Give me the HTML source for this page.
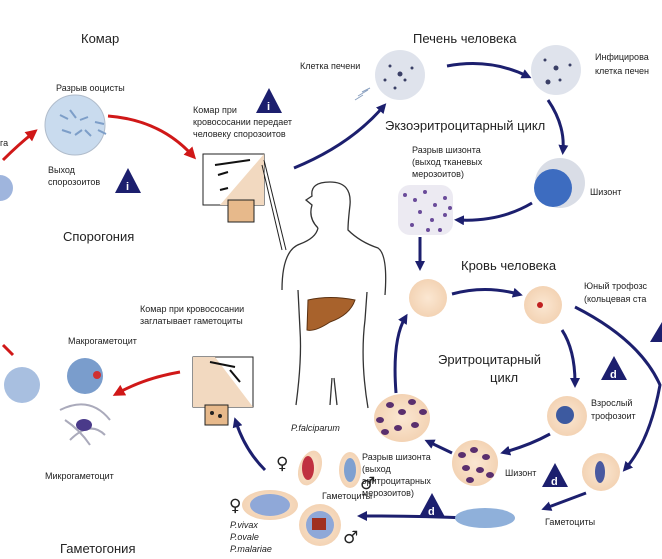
<!DOCTYPE html>
<html><head><meta charset="utf-8"><style>
html,body{margin:0;padding:0;background:#fff;}
svg{display:block;}
text{font-family:"Liberation Sans",sans-serif;fill:#222;}
.s{font-size:9px;} .b{font-size:13px;}
.g{font-family:"DejaVu Sans",sans-serif;font-size:17px;font-weight:bold;}
</style></head><body>
<svg width="662" height="559" viewBox="0 0 662 559" xmlns="http://www.w3.org/2000/svg">
<defs>
<marker id="bh" markerWidth="10" markerHeight="10" refX="5" refY="5" orient="auto" markerUnits="userSpaceOnUse" viewBox="0 0 10 10"><path d="M0,0 L10,5 L0,10 z" fill="#1c1f6e"/></marker>
<marker id="rh" markerWidth="12" markerHeight="12" refX="5" refY="5" orient="auto" markerUnits="userSpaceOnUse" viewBox="0 0 10 10"><path d="M0,0 L10,5 L0,10 z" fill="#d01818"/></marker>
<radialGradient id="rbc"><stop offset="0" stop-color="#fbe7d2"/><stop offset="1" stop-color="#f3d3b4"/></radialGradient>
</defs>
<text class="b" x="81" y="43">Комар</text>
<text class="b" x="413" y="43">Печень человека</text>
<text class="b" x="385" y="130">Экзоэритроцитарный цикл</text>
<text class="b" x="63" y="241">Спорогония</text>
<text class="b" x="461" y="270">Кровь человека</text>
<text class="b" x="438" y="364">Эритроцитарный</text>
<text class="b" x="490" y="382">цикл</text>
<text class="b" x="60" y="553">Гаметогония</text>
<text class="s" x="56" y="91">Разрыв ооцисты</text>
<text class="s" x="48" y="173">Выход</text><text class="s" x="48" y="185">спорозоитов</text>
<text class="s" x="0" y="146">га</text>
<text class="s" x="193" y="113">Комар при</text>
<text class="s" x="193" y="125">кровососании передает</text>
<text class="s" x="193" y="137">человеку спорозоитов</text>
<text class="s" x="300" y="69">Клетка печени</text>
<text class="s" x="595" y="60">Инфицирова</text><text class="s" x="595" y="74">клетка печен</text>
<text class="s" x="412" y="153">Разрыв шизонта</text>
<text class="s" x="412" y="165">(выход тканевых</text>
<text class="s" x="412" y="177">мерозоитов)</text>
<text class="s" x="590" y="195">Шизонт</text>
<text class="s" x="584" y="289">Юный трофозс</text>
<text class="s" x="584" y="302">(кольцевая ста</text>
<text class="s" x="591" y="406">Взрослый</text><text class="s" x="591" y="419">трофозоит</text>
<text class="s" x="505" y="476">Шизонт</text>
<text class="s" x="545" y="525">Гаметоциты</text>
<text class="s" x="362" y="460">Разрыв шизонта</text>
<text class="s" x="362" y="472">(выход</text>
<text class="s" x="362" y="484">эритроцитарных</text>
<text class="s" x="362" y="496">мерозоитов)</text>
<text class="s" x="140" y="312">Комар при кровососании</text>
<text class="s" x="140" y="324">заглатывает гаметоциты</text>
<text class="s" x="68" y="344">Макрогаметоцит</text>
<text class="s" x="45" y="479">Микрогаметоцит</text>
<text class="s" x="291" y="431" font-style="italic">P.falciparum</text>
<text class="s" x="322" y="499">Гаметоциты</text>
<text class="s" x="230" y="528" font-style="italic">P.vivax</text>
<text class="s" x="230" y="540" font-style="italic">P.ovale</text>
<text class="s" x="230" y="552" font-style="italic">P.malariae</text>
<text class="g" x="276" y="469">♀</text>
<text class="g" x="360" y="489">♂</text>
<text class="g" x="229" y="511">♀</text>
<text class="g" x="343" y="543">♂</text>
<g fill="#1c1f6e">
<path d="M128,168 L141,193 L115,193z"/><path d="M269,88 L282,113 L256,113z"/>
<path d="M614,356 L627,380 L601,380z"/><path d="M555,463 L568,487 L542,487z"/>
<path d="M432,493 L445,517 L419,517z"/><path d="M662,322 L662,342 L650,342z"/>
</g>
<g fill="#fff" font-size="11" font-weight="bold"><text x="126" y="190" style="fill:#fff">i</text><text x="267" y="110" style="fill:#fff">i</text>
<text x="610" y="378" style="fill:#fff">d</text><text x="551" y="485" style="fill:#fff">d</text><text x="428" y="515" style="fill:#fff">d</text></g>
<circle cx="75" cy="125" r="30" fill="#c9dbee" stroke="#b0bccb"/>
<g stroke="#7d9ec8" stroke-width="2"><path d="M60,115l8,4M70,110l6,8M80,120l8,-3M62,130l9,3M75,135l7,-5M85,130l6,6M95,122l9,2M98,130l8,4"/></g>
<circle cx="0" cy="188" r="13" fill="#9fb5dd"/>
<g stroke="#d01818" stroke-width="3" fill="none">
<path d="M3,160 Q18,145 33,133" marker-end="url(#rh)"/>
<path d="M108,116 Q160,120 192,155" marker-end="url(#rh)"/>
<path d="M180,372 Q145,378 118,393" marker-end="url(#rh)"/>
<path d="M3,345 l10,10"/>
</g>
<rect x="203" y="154" width="61" height="51" fill="#fff" stroke="#222"/>
<path d="M220,205 L264,154 L264,205z" fill="#f2d9c0"/>
<path d="M215,165 l35,-5 M218,175 l10,-3 M220,190 l8,-2" stroke="#111" stroke-width="2"/>
<rect x="228" y="200" width="26" height="22" fill="#e7b98b" stroke="#222"/>
<line x1="264" y1="160" x2="286" y2="250" stroke="#222"/><line x1="262" y1="165" x2="282" y2="250" stroke="#222"/>
<rect x="193" y="357" width="60" height="50" fill="#fff" stroke="#222"/>
<path d="M193,357 L215,357 L253,407 L193,407z" fill="#f2d9c0"/>
<path d="M210,362 l25,5 M230,370 l10,12" stroke="#111" stroke-width="2"/>
<rect x="205" y="405" width="23" height="20" fill="#e7b98b" stroke="#222"/>
<circle cx="212" cy="413" r="2" fill="#222"/><circle cx="220" cy="416" r="2" fill="#222"/>
<g fill="none" stroke="#333" stroke-width="1.3">
<path d="M318,228 Q308,218 312,205 L306,200 L312,196 Q310,182 330,182 Q352,182 350,205 Q348,222 348,230 Q360,242 378,248 Q388,255 385,295"/>
<path d="M318,228 Q316,238 300,244 Q282,250 282,290"/>
<path d="M298,290 L300,330 Q302,360 296,405"/>
<path d="M367,292 L365,320 Q360,360 368,408"/>
<path d="M332,378 L330,405 M334,378 L337,405"/>
</g>
<path d="M308,300 Q330,295 355,300 Q350,315 330,322 Q315,332 307,330z" fill="#a8622c" stroke="#5a3010"/>
<g stroke="#1c1f6e" stroke-width="3" fill="none">
<path d="M294,168 Q350,145 383,107" marker-end="url(#bh)"/>
<path d="M447,66 Q490,58 527,76" marker-end="url(#bh)"/>
<path d="M548,100 Q565,125 563,150" marker-end="url(#bh)"/>
<path d="M532,203 Q500,222 459,220" marker-end="url(#bh)"/>
<path d="M420,237 L420,266" marker-end="url(#bh)"/>
<path d="M452,294 Q485,285 518,294" marker-end="url(#bh)"/>
<path d="M562,330 Q575,350 575,383" marker-end="url(#bh)"/>
<path d="M575,307 Q640,340 660,385 Q650,440 626,468" marker-end="url(#bh)"/>
<path d="M550,434 Q530,445 505,452" marker-end="url(#bh)"/>
<path d="M452,453 L429,442" marker-end="url(#bh)"/>
<path d="M396,393 Q392,340 405,318" marker-end="url(#bh)"/>
<path d="M586,493 L546,508" marker-end="url(#bh)"/>
<path d="M468,518 Q420,516 362,516" marker-end="url(#bh)"/>
<path d="M265,470 Q245,450 236,422" marker-end="url(#bh)"/>
</g>
<circle cx="400" cy="75" r="25" fill="#dfe3ec"/>
<circle cx="556" cy="70" r="25" fill="#dfe3ec"/>
<g fill="#3a3f66"><circle cx="390" cy="66" r="1.5"/><circle cx="405" cy="80" r="1.5"/><circle cx="395" cy="88" r="1.5"/><circle cx="412" cy="68" r="1.5"/><circle cx="385" cy="80" r="1.5"/><circle cx="400" cy="74" r="2.5"/><circle cx="545" cy="60" r="1.5"/><circle cx="560" cy="80" r="1.5"/><circle cx="570" cy="65" r="1.5"/><circle cx="548" cy="82" r="2.5"/><circle cx="556" cy="68" r="2.5"/></g>
<path d="M355,100 l8,-5 M362,92 l8,-4 M358,96 l10,-6" stroke="#8aa0c0"/>
<circle cx="560" cy="183" r="25" fill="#d9dde6"/><circle cx="553" cy="188" r="19" fill="#3d6cc0"/>
<rect x="398" y="185" width="55" height="50" rx="12" fill="#eceaf2"/>
<g fill="#6a4b9a"><circle cx="405" cy="195" r="2"/><circle cx="415" cy="200" r="2"/><circle cx="425" cy="192" r="2"/><circle cx="435" cy="205" r="2"/><circle cx="445" cy="198" r="2"/><circle cx="420" cy="212" r="2"/><circle cx="432" cy="220" r="2"/><circle cx="445" cy="215" r="2"/><circle cx="412" cy="225" r="2"/><circle cx="440" cy="230" r="2"/><circle cx="428" cy="230" r="2"/><circle cx="450" cy="208" r="2"/></g>
<g fill="url(#rbc)">
<circle cx="428" cy="298" r="19"/><circle cx="543" cy="305" r="19"/><circle cx="567" cy="416" r="20"/>
<circle cx="475" cy="463" r="23"/><ellipse cx="402" cy="418" rx="28" ry="24"/><circle cx="601" cy="472" r="19"/>
<ellipse cx="310" cy="468" rx="11" ry="18" transform="rotate(20 310 468)"/><ellipse cx="350" cy="470" rx="11" ry="18"/>
<ellipse cx="270" cy="505" rx="28" ry="15"/><circle cx="320" cy="525" r="21"/>
</g>
<circle cx="540" cy="305" r="3" fill="#c02020"/>
<circle cx="565" cy="415" r="9" fill="#3d5aa0"/>
<ellipse cx="600" cy="472" rx="5" ry="11" fill="#4a5aa0"/>
<g fill="#5a2f6e"><ellipse cx="462" cy="455" rx="4" ry="3"/><ellipse cx="474" cy="450" rx="4" ry="3"/><ellipse cx="486" cy="457" rx="4" ry="3"/><ellipse cx="466" cy="468" rx="4" ry="3"/><ellipse cx="480" cy="470" rx="4" ry="3"/><ellipse cx="490" cy="475" rx="4" ry="3"/><ellipse cx="470" cy="480" rx="4" ry="3"/>
<ellipse cx="390" cy="405" rx="4" ry="3"/><ellipse cx="402" cy="412" rx="4" ry="3"/><ellipse cx="412" cy="402" rx="4" ry="3"/><ellipse cx="415" cy="425" rx="4" ry="3"/><ellipse cx="398" cy="428" rx="4" ry="3"/><ellipse cx="380" cy="420" rx="4" ry="3"/><ellipse cx="423" cy="412" rx="4" ry="3"/><ellipse cx="385" cy="432" rx="4" ry="3"/></g>
<ellipse cx="485" cy="518" rx="30" ry="10" fill="#8fb0da"/>
<ellipse cx="308" cy="468" rx="6" ry="12" fill="#c03040"/><ellipse cx="350" cy="470" rx="6" ry="12" fill="#7fa0d0"/>
<ellipse cx="270" cy="505" rx="20" ry="11" fill="#8fa8d8"/><circle cx="320" cy="525" r="14" fill="#8fa8d8"/><rect x="312" y="518" width="14" height="12" fill="#a03020"/>
<circle cx="85" cy="376" r="18" fill="#7a9dcc"/><circle cx="97" cy="375" r="4" fill="#d03030"/>
<circle cx="22" cy="385" r="18" fill="#a8bfe0"/>
<path d="M60,410 Q90,395 110,420 M70,440 Q90,420 105,435 M65,420 Q80,430 90,445" stroke="#aab" stroke-width="2" fill="none"/>
<ellipse cx="84" cy="425" rx="8" ry="6" fill="#4a3a8a"/>
</svg>
</body></html>
